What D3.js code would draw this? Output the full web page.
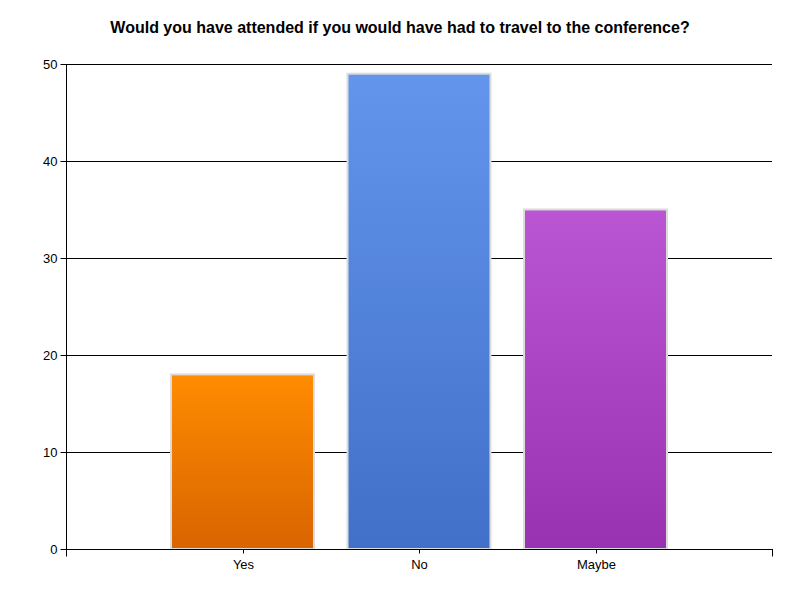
<!DOCTYPE html>
<html>
<head>
<meta charset="utf-8">
<script src="https://cdn.jsdelivr.net/npm/d3@7"></script>
<style>
  html, body { margin: 0; padding: 0; background: #fff; }
  svg { display: block; font-family: "Liberation Sans", Arial, sans-serif; }
</style>
</head>
<body>
<svg id="chart" width="800" height="600"></svg>
<script>
const title = "Would you have attended if you would have had to travel to the conference?";
const categories = ["Yes", "No", "Maybe"];
const values = [18, 49, 35];
const topColors = ["#ff8c00", "#6495ed", "#ba55d3"];
const bottomColors = ["#d96400", "#4070c8", "#9932b0"];
const yTicks = [0, 10, 20, 30, 40, 50];

const svg = d3.select("#chart");
const m = { left: 66, right: 772, top: 64, bottom: 549 };

const x = d3.scaleLinear().domain([0, categories.length + 1]).range([m.left, m.right]);
const y = d3.scaleLinear().domain([0, 50]).range([m.bottom, m.top]);
const step = x(1) - x(0);
const barW = step * 0.81;

const defs = svg.append("defs");
categories.forEach((c, i) => {
  const g = defs.append("linearGradient").attr("id", "grad" + i)
    .attr("x1", 0).attr("y1", 0).attr("x2", 0).attr("y2", 1);
  g.append("stop").attr("offset", "0%").attr("stop-color", topColors[i]);
  g.append("stop").attr("offset", "100%").attr("stop-color", bottomColors[i]);
});

// title
svg.append("text")
  .attr("x", 400).attr("y", 33)
  .attr("text-anchor", "middle")
  .attr("font-size", 16).attr("font-weight", "bold")
  .attr("fill", "#000")
  .text(title);

// gridlines
svg.append("g").selectAll("line").data(yTicks).join("line")
  .attr("x1", m.left).attr("x2", m.right)
  .attr("y1", d => Math.round(y(d)) + 0.5).attr("y2", d => Math.round(y(d)) + 0.5)
  .attr("stroke", "#000").attr("stroke-width", 1);

// bars
svg.append("g").selectAll("rect").data(values).join("rect")
  .attr("x", (d, i) => x(i + 1) - barW / 2)
  .attr("y", d => y(d))
  .attr("width", barW)
  .attr("height", d => y(0) - y(d))
  .attr("fill", (d, i) => `url(#grad${i})`)
  .attr("stroke", "#dcdcdc")
  .attr("stroke-width", 2);

// y axis
const yAxis = svg.append("g")
  .attr("transform", `translate(${m.left + 0.5},0)`)
  .call(d3.axisLeft(y).tickValues(yTicks).tickSize(6).tickPadding(3).tickFormat(d3.format("d")));
yAxis.select(".domain").attr("d", `M0,${m.top}V${m.bottom + 1}`).attr("stroke", "#000");
yAxis.selectAll(".tick line").attr("stroke", "#000");
yAxis.selectAll(".tick").attr("transform", d => `translate(0,${Math.round(y(d)) + 0.5})`);
yAxis.selectAll("text").attr("font-size", 13).attr("fill", "#000")
  .attr("font-family", "Liberation Sans, Arial, sans-serif");

// x axis
const xAxis = svg.append("g")
  .attr("transform", `translate(0,${m.bottom + 0.5})`)
  .call(d3.axisBottom(x).tickValues([0, 1, 2, 3, 4]).tickSize(0)
    .tickFormat(d => (d >= 1 && d <= categories.length) ? categories[d - 1] : ""));
xAxis.select(".domain").remove();
xAxis.append("line").attr("x1", m.left).attr("x2", m.right + 1).attr("stroke", "#000");
xAxis.selectAll(".tick line")
  .attr("y2", d => (d === 0 || d === 4) ? 7 : 4)
  .attr("stroke", "#000");
xAxis.selectAll(".tick").attr("transform", d => `translate(${Math.round(x(d)) + 0.5},0)`);
xAxis.selectAll("text").attr("y", 10).attr("font-size", 13).attr("fill", "#000")
  .attr("font-family", "Liberation Sans, Arial, sans-serif");
</script>
</body>
</html>
